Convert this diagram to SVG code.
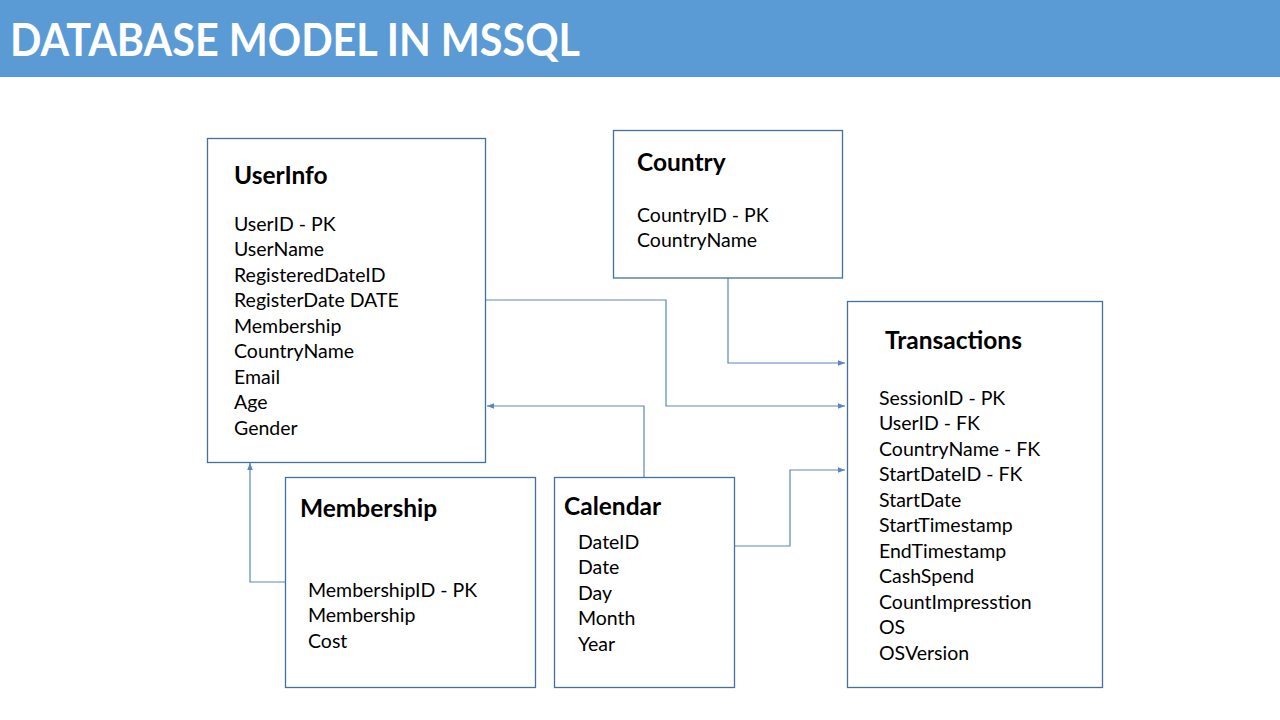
<svg xmlns="http://www.w3.org/2000/svg" width="1280" height="720" viewBox="0 0 1280 720">
<defs>
<style>
.box{fill:#ffffff;stroke:#41719c;stroke-width:1.3}
.ttl{font-family:Lato,"Open Sans","Liberation Sans",sans-serif;font-weight:bold;font-size:24.5px;fill:#000}
.fld{font-family:Lato,"Open Sans","Liberation Sans",sans-serif;font-size:19.5px;fill:#000}
.con{fill:none;stroke:#5b86bd;stroke-width:1.2}
</style>
<marker id="arr" viewBox="0 0 10 10" refX="10" refY="5" markerWidth="7" markerHeight="7" markerUnits="userSpaceOnUse" orient="auto">
<path d="M0,1 L10,5 L0,9 Z" fill="#5b86bd"/>
</marker>
</defs>
<rect x="0" y="0" width="1280" height="77" fill="#5b9bd5"/>
<text x="10" y="56" font-family="Lato,'Open Sans','Liberation Sans',sans-serif" font-weight="bold" font-size="46" fill="#ffffff" textLength="570" lengthAdjust="spacingAndGlyphs">DATABASE MODEL IN MSSQL</text>

<g id="connectors">
<polyline class="con" points="486,300 666,300 666,406 845,406" marker-end="url(#arr)"/>
<polyline class="con" points="728,278 728,363 845,363" marker-end="url(#arr)"/>
<polyline class="con" points="644,477 644,406 487,406" marker-end="url(#arr)"/>
<polyline class="con" points="734,546 790,546 790,470 845,470" marker-end="url(#arr)"/>
<polyline class="con" points="285,582 250,582 250,463" marker-end="url(#arr)"/>
</g>

<g id="userinfo">
<rect class="box" x="207.5" y="138.5" width="278" height="324"/>
<text class="ttl" x="234" y="183.5">UserInfo</text>
<text class="fld" x="234" y="230.5">UserID - PK</text>
<text class="fld" x="234" y="256">UserName</text>
<text class="fld" x="234" y="281.5">RegisteredDateID</text>
<text class="fld" x="234" y="307">RegisterDate DATE</text>
<text class="fld" x="234" y="332.5">Membership</text>
<text class="fld" x="234" y="358">CountryName</text>
<text class="fld" x="234" y="383.5">Email</text>
<text class="fld" x="234" y="409">Age</text>
<text class="fld" x="234" y="434.5">Gender</text>
</g>

<g id="country">
<rect class="box" x="613.5" y="130.5" width="229" height="147.5"/>
<text class="ttl" x="637" y="170.5">Country</text>
<text class="fld" x="637" y="221.5">CountryID - PK</text>
<text class="fld" x="637" y="247">CountryName</text>
</g>

<g id="transactions">
<rect class="box" x="847.5" y="301.5" width="255" height="386"/>
<text class="ttl" x="885" y="348.5">Transactions</text>
<text class="fld" x="879" y="404.5">SessionID - PK</text>
<text class="fld" x="879" y="430">UserID - FK</text>
<text class="fld" x="879" y="455.5">CountryName - FK</text>
<text class="fld" x="879" y="481">StartDateID - FK</text>
<text class="fld" x="879" y="506.5">StartDate</text>
<text class="fld" x="879" y="532">StartTimestamp</text>
<text class="fld" x="879" y="557.5">EndTimestamp</text>
<text class="fld" x="879" y="583">CashSpend</text>
<text class="fld" x="879" y="608.5">CountImpresstion</text>
<text class="fld" x="879" y="634">OS</text>
<text class="fld" x="879" y="659.5">OSVersion</text>
</g>

<g id="membership">
<rect class="box" x="285.5" y="477.5" width="250" height="210"/>
<text class="ttl" x="300" y="517">Membership</text>
<text class="fld" x="308" y="596.5">MembershipID - PK</text>
<text class="fld" x="308" y="622">Membership</text>
<text class="fld" x="308" y="647.5">Cost</text>
</g>

<g id="calendar">
<rect class="box" x="554.5" y="477.5" width="180" height="210"/>
<text class="ttl" x="564" y="514.5">Calendar</text>
<text class="fld" x="578" y="548.5">DateID</text>
<text class="fld" x="578" y="574">Date</text>
<text class="fld" x="578" y="599.5">Day</text>
<text class="fld" x="578" y="625">Month</text>
<text class="fld" x="578" y="650.5">Year</text>
</g>
</svg>
